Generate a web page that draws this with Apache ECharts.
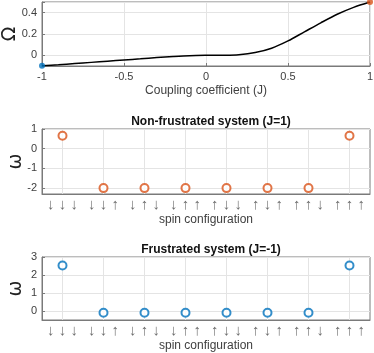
<!DOCTYPE html>
<html style="height: 100%">
<head>
<meta charset="utf-8">
<script src="https://cdn.jsdelivr.net/npm/echarts@6/dist/echarts.min.js"></script>
</head>
<body style="height: 100%; margin: 0; background: #fff">
<div id="container" style="width: 374px; height: 353px"></div>
<script type="text/javascript">

// top panel: Omega vs coupling coefficient
var couplingJ = [-1, -0.9, -0.8, -0.7, -0.6, -0.5, -0.4, -0.3, -0.2, -0.1, 0, 0.1, 0.2, 0.3, 0.4, 0.5, 0.6, 0.7, 0.8, 0.9, 1];
var omegaBig = [-0.098, -0.088, -0.077, -0.066, -0.055, -0.044, -0.033, -0.021, -0.011, -0.003, 0, 0.001, 0.006, 0.026, 0.067, 0.135, 0.22, 0.305, 0.385, 0.45, 0.5];

// spin configurations
var spinConfigs = ['↓ ↓ ↓', '↓ ↓ ↑', '↓ ↑ ↓', '↓ ↑ ↑', '↑ ↓ ↓', '↑ ↓ ↑', '↑ ↑ ↓', '↑ ↑ ↑'];
var omegaNonFrustrated = [0.66, -2, -2, -2, -2, -2, -2, 0.66];
var omegaFrustrated = [2.53, -0.1, -0.1, -0.1, -0.1, -0.1, -0.1, 2.53];

var blue = '#0072BD', orange = '#D95319';
var font = 'Liberation Sans';
var gridColor = '#e4e4e4', boxColor = '#7a7a7a', textColor = '#404040';

var dom = document.getElementById("container");
var myChart = echarts.init(dom, null, {renderer: 'canvas'});

function box(top, height) {
    return {left: 42, right: 4, top: top, height: height, show: true,
        containLabel: false, outerBoundsMode: 'none',
        borderColor: boxColor, borderWidth: 1, backgroundColor: '#fff'};
}
function yAx(idx, min, max, name, gap, step) {
    return {
        type: 'value', gridIndex: idx, min: min, max: max, splitNumber: 3,
        name: name, nameLocation: 'middle', nameGap: gap, nameMoveOverlap: false,
        nameTextStyle: {fontSize: 19, color: '#222', fontFamily: 'DejaVu Sans'},
        axisLine: {show: true, onZero: false, lineStyle: {color: boxColor}},
        axisTick: {show: true, inside: true, length: 3, lineStyle: {color: boxColor}},
        splitLine: {show: true, lineStyle: {color: gridColor}},
        axisLabel: {fontSize: 11, color: textColor, fontFamily: font, margin: 5,
            formatter: function (v) {
                var k = v / step;
                return Math.abs(k - Math.round(k)) < 1e-6 ? String(Math.round(k * step * 10) / 10) : '';
            }}
    };
}
function spinAx(idx) {
    return {
        type: 'category', gridIndex: idx, data: spinConfigs, boundaryGap: true,
        name: 'spin configuration', nameLocation: 'middle', nameGap: 20, nameMoveOverlap: false,
        nameTextStyle: {fontSize: 12, color: textColor, fontFamily: font},
        axisLine: {show: true, onZero: false, lineStyle: {color: boxColor}},
        axisTick: {show: true, inside: true, length: 3, alignWithLabel: true, lineStyle: {color: boxColor}},
        splitLine: {show: false},
        axisLabel: {fontSize: 15, color: '#707070', fontFamily: font, margin: 3, interval: 0}
    };
}
// vertical grid lines through each spin configuration
function spinGridLines(idx) {
    return {
        type: 'scatter', xAxisIndex: idx, yAxisIndex: idx, z: 1, silent: true, data: [],
        markLine: {
            silent: true, symbol: 'none', animation: false, z: 1,
            label: {show: false},
            lineStyle: {color: gridColor, type: 'solid', width: 1},
            data: spinConfigs.map(function (c) { return {xAxis: c}; })
        }
    };
}

var option = {
    animation: false,
    title: [
        {text: 'Non-frustrated system (J=1)', left: 206, top: 111, textAlign: 'center',
            textStyle: {fontSize: 12, fontWeight: 'bold', color: '#111', fontFamily: font}},
        {text: 'Frustrated system (J=-1)', left: 206, top: 239, textAlign: 'center',
            textStyle: {fontSize: 12, fontWeight: 'bold', color: '#111', fontFamily: font}}
    ],
    grid: [box(2, 64), box(129, 65), box(257, 63)],
    xAxis: [
        {
            type: 'value', gridIndex: 0, min: -1, max: 1, interval: 0.5,
            name: 'Coupling coefficient (J)', nameLocation: 'middle', nameGap: 19, nameMoveOverlap: false,
            nameTextStyle: {fontSize: 12, color: textColor, fontFamily: font},
            axisLine: {show: true, onZero: false, lineStyle: {color: boxColor}},
            axisTick: {show: true, inside: true, length: 3, lineStyle: {color: boxColor}},
            splitLine: {show: true, lineStyle: {color: gridColor}},
            axisLabel: {fontSize: 11, color: textColor, fontFamily: font, margin: 5}
        },
        spinAx(1),
        spinAx(2)
    ],
    yAxis: [
        yAx(0, -0.1, 0.5, 'Ω', 22, 0.2),
        yAx(1, -2.3, 1, 'ω', 16, 1),
        yAx(2, -0.5, 3, 'ω', 16, 1)
    ],
    series: [
        {
            type: 'line', xAxisIndex: 0, yAxisIndex: 0, smooth: 0.3, showSymbol: false,
            lineStyle: {color: '#000', width: 1.5},
            data: couplingJ.map(function (j, i) { return [j, omegaBig[i]]; })
        },
        {
            type: 'scatter', xAxisIndex: 0, yAxisIndex: 0, symbolSize: 6, z: 4,
            itemStyle: {color: blue},
            data: [[couplingJ[0], omegaBig[0]]]
        },
        {
            type: 'scatter', xAxisIndex: 0, yAxisIndex: 0, symbolSize: 6, z: 4,
            itemStyle: {color: orange},
            data: [[couplingJ[couplingJ.length - 1], omegaBig[omegaBig.length - 1]]]
        },
        spinGridLines(1),
        spinGridLines(2),
        {
            type: 'scatter', xAxisIndex: 1, yAxisIndex: 1, symbol: 'emptyCircle', symbolSize: 8, z: 4,
            itemStyle: {color: orange, borderColor: orange, borderWidth: 2},
            data: omegaNonFrustrated
        },
        {
            type: 'scatter', xAxisIndex: 2, yAxisIndex: 2, symbol: 'emptyCircle', symbolSize: 8, z: 4,
            itemStyle: {color: blue, borderColor: blue, borderWidth: 2},
            data: omegaFrustrated
        }
    ]
};

myChart.setOption(option);

</script>
</body>
</html>
